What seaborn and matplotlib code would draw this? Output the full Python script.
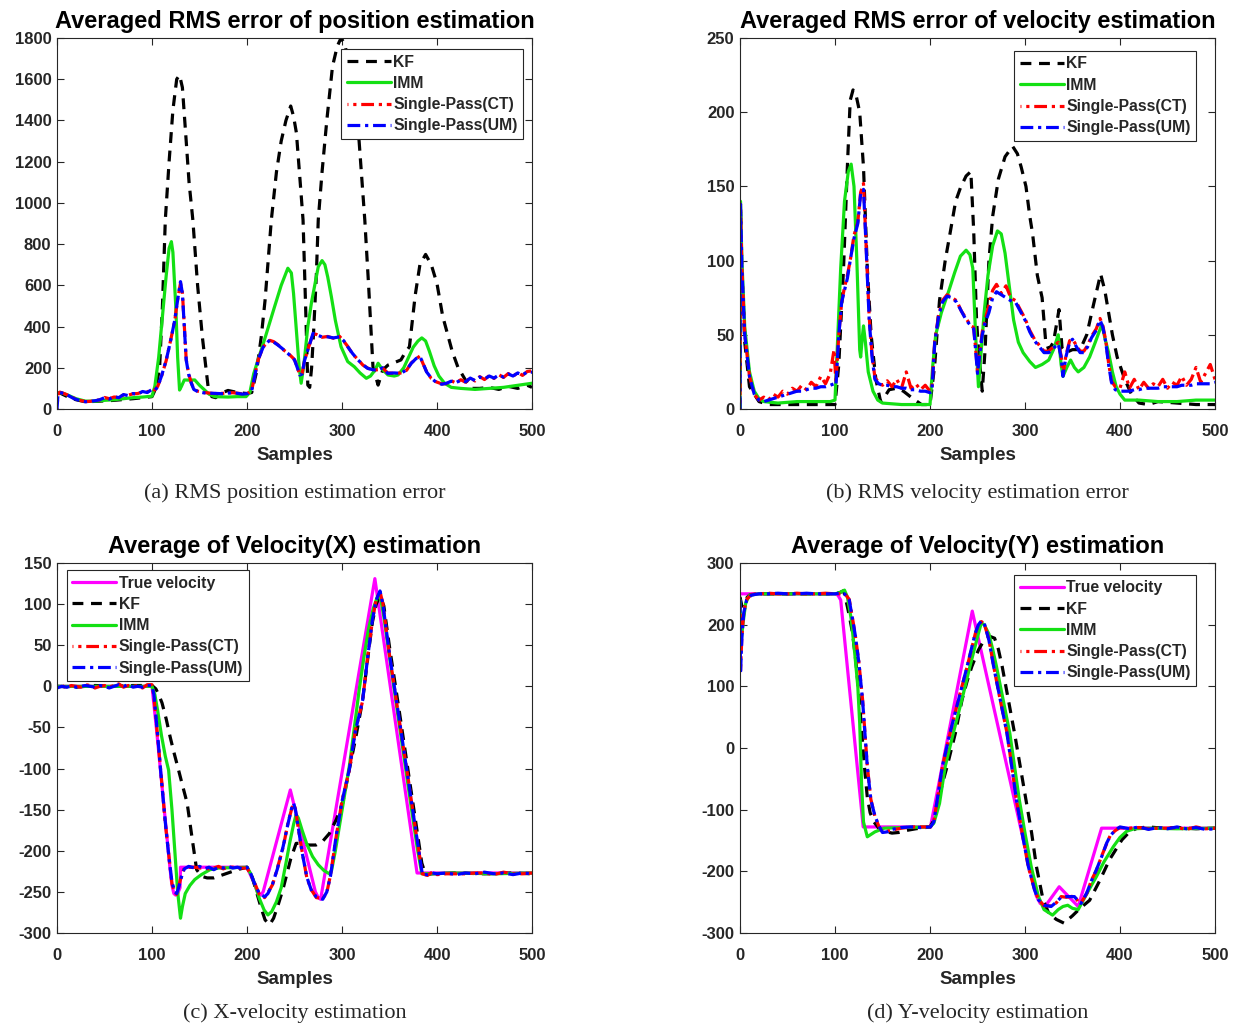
import matplotlib
matplotlib.use("Agg")
import matplotlib.pyplot as plt
import seaborn as sns
import pandas as pd

# ---------------- data: panel (a) RMS position error ----------------
A_KF_X = [0, 3, 10, 20, 30, 45, 60, 80, 100, 104, 108, 111, 114, 118, 122, 126, 129, 132, 136, 139, 143, 148, 153, 159, 163, 167, 172, 180, 190, 200, 205, 210, 215, 219, 225.6, 231, 236, 241, 246, 249, 252, 256, 259, 262, 264, 266, 268, 270, 273, 275, 279, 284, 290, 295, 299, 303, 308, 313, 318, 324, 328, 332.6, 338, 343, 348.4, 355, 362, 366, 371, 377, 382, 388, 394, 400, 406, 411, 416, 422, 430, 437, 445, 455, 465, 475, 485, 495, 500]
A_KF_Y = [80, 78, 62, 45, 35, 38, 42, 50, 60, 100, 200, 500, 917, 1200, 1450, 1600, 1620, 1560, 1300, 1100, 917, 600, 350, 110, 60, 55, 75, 90, 80, 75, 80, 180, 350, 527, 917, 1150, 1300, 1400, 1470, 1420, 1340, 1100, 917, 450, 116, 105, 200, 365, 650, 917, 1150, 1400, 1662, 1760, 1800, 1770, 1650, 1500, 1300, 917, 600, 205, 116, 190, 213, 225, 238, 270, 302, 550, 700, 750, 700, 608, 450, 365, 280, 203, 140, 100, 100, 105, 95, 110, 100, 115, 105]

A_IMM_X = [0, 5, 10, 20, 30, 40, 50, 60, 70, 80, 90, 100, 103, 107, 111, 115, 118, 120.4, 122, 125, 127, 129, 131, 134, 140, 145, 150, 155.4, 160, 166, 180, 190, 199, 203, 207, 211.6, 220, 229, 236, 243, 246.7, 249, 252, 255, 257, 260, 264, 268, 271, 275, 279, 282, 285, 288.8, 293, 299, 306, 313, 319, 325.6, 330, 335, 338, 342, 348.4, 355, 359, 365, 370, 375, 380, 384, 388, 392, 397, 402, 408, 415, 425, 440, 455, 470, 485, 500]
A_IMM_Y = [80, 78, 70, 50, 38, 38, 42, 45, 50, 55, 58, 62, 110, 250, 450, 650, 780, 812, 760, 500, 250, 92, 110, 141, 140, 141, 115, 92, 72, 60, 58, 60, 60, 80, 170, 238, 360, 496, 600, 683, 660, 560, 380, 200, 125, 220, 400, 520, 593, 690, 720, 700, 640, 545, 430, 302, 230, 205, 175, 149, 160, 190, 222, 195, 165, 160, 165, 200, 250, 300, 330, 345, 330, 280, 210, 160, 125, 105, 100, 95, 100, 105, 115, 125]

A_SP_X = [0, 1, 3, 8, 12, 18, 25, 30, 35, 40, 45, 50, 55, 60, 65, 70, 75, 80, 85, 90, 95, 100, 103, 106, 110, 115, 120, 124, 127, 130, 132, 134, 136, 138.5, 141.4, 144, 148.4, 155, 165, 175, 185, 195, 201, 205, 211.6, 217, 224, 228, 232.6, 238, 243, 250, 253, 255.4, 258, 260.7, 265, 269.5, 273, 279, 285, 291, 297.5, 302, 306, 311, 316.8, 322, 327, 333, 338, 343, 348, 355, 362, 368, 373, 378, 382, 385, 389, 394, 399, 405, 410, 415, 420, 425, 430, 435, 440, 445, 450, 455, 460, 465, 470, 475, 480, 485, 490, 495, 500]
A_UM_Y = [0, 70, 80, 75, 65, 50, 40, 35, 38, 40, 45, 55, 48, 60, 55, 70, 65, 75, 72, 85, 80, 95, 90, 108, 160, 238, 340, 432, 530, 618, 560, 400, 238, 170, 125, 95, 84, 78, 76, 74, 80, 72, 75, 90, 238, 300, 335, 325, 310, 290, 270, 238, 200, 165, 170, 238, 300, 367, 360, 350, 350, 345, 350, 330, 302, 270, 238, 215, 197, 190, 189, 200, 173, 175, 173, 190, 222, 245, 255, 225, 180, 150, 130, 120, 125, 135, 128, 140, 132, 150, 138, 155, 145, 160, 150, 165, 155, 170, 160, 175, 165, 180, 178]
A_CT_Y = [0, 72, 82, 74, 66, 52, 41, 36, 37, 42, 44, 56, 50, 58, 57, 68, 67, 74, 75, 83, 82, 97, 92, 110, 158, 236, 342, 430, 532, 610, 565, 405, 240, 172, 127, 96, 86, 80, 75, 76, 79, 74, 76, 92, 236, 302, 333, 327, 312, 288, 272, 240, 202, 167, 172, 236, 302, 365, 362, 348, 352, 343, 352, 328, 304, 268, 240, 213, 199, 188, 191, 198, 175, 173, 175, 188, 224, 243, 257, 223, 182, 148, 132, 122, 123, 137, 126, 142, 130, 152, 136, 157, 143, 162, 148, 167, 153, 172, 158, 177, 163, 182, 185]

# ---------------- data: panel (b) RMS velocity error ----------------
B_KF_X = [0, 0.5, 2, 5, 10, 20, 30, 50, 70, 90, 100, 104, 109, 113, 116, 119, 122, 126, 130, 134, 138, 143, 148, 152, 157, 165, 172, 180, 191, 200, 205, 210, 216, 221, 227, 232, 238, 243, 246, 249, 251, 255, 258, 262, 266, 272, 279, 287, 292, 296, 301, 305, 308, 313, 318, 321.7, 325, 330, 335.8, 339, 343, 350, 358, 365, 372, 379.6, 384, 388, 392, 397, 405, 412, 420, 430, 440, 460, 480, 500]
B_KF_Y = [0, 135, 90, 45, 15, 5, 3, 3, 3, 3, 3, 30, 95, 163, 208, 215, 212, 200, 163, 95, 50, 20, 5, 8, 13, 14, 12, 8, 3, 3, 30, 73, 100, 118, 140, 149, 157, 160, 120, 60, 40, 12, 40, 100, 130, 155, 170, 177, 172, 163, 150, 130, 118, 90, 75, 46, 40, 45, 67, 41, 38, 40, 40, 50, 70, 91, 80, 65, 50, 35, 20, 10, 4, 3, 5, 4, 3, 3]

B_IMM_X = [0, 0.5, 2, 5, 10, 15, 20, 25, 40, 60, 80, 95, 100, 103, 106, 110, 114, 117, 120, 123, 126, 127, 129, 130, 132, 135, 140, 145, 150, 170, 190, 200, 203, 206, 212, 220, 226, 232, 238, 242, 245, 248, 251, 254, 257, 261, 266, 271, 275, 279, 283, 288, 293, 298, 305, 311, 318, 325, 330, 335, 338, 340, 344, 348, 352, 356, 362, 368, 374, 378, 381, 384, 388, 392, 396, 400, 405, 420, 440, 460, 480, 500]
B_IMM_Y = [0, 140, 100, 55, 25, 12, 7, 5, 4, 5, 5, 5, 6, 50, 95, 140, 160, 165, 150, 100, 40, 35, 50, 56, 45, 25, 12, 6, 4, 3, 3, 3, 30, 50, 65, 80, 92, 103, 107, 104, 95, 50, 15, 40, 65, 90, 110, 120, 118, 105, 85, 60, 45, 38, 32, 28, 30, 33, 40, 50, 30, 22, 28, 33, 28, 25, 28, 35, 45, 52, 57, 48, 38, 25, 15, 10, 6, 6, 5, 5, 6, 6]

B_SP_X = [0, 0.5, 2, 5, 10, 15, 20, 25, 30, 35, 40, 45, 50, 55, 60, 65, 70, 75, 80, 85, 90, 95, 99, 101, 104, 107, 110, 113, 116, 120, 124, 127, 130, 132, 134, 136, 139, 142, 146, 150, 155, 160, 165, 170, 175, 180, 185, 190, 195, 200, 202, 205, 209, 213, 218, 223, 228, 233, 238, 243, 246, 248, 250, 252, 255, 258, 262, 266, 270, 275, 280, 285, 290, 295, 300, 305, 310, 315, 320, 325, 330, 335, 338, 340, 343, 347, 350, 354, 358, 362, 366, 370, 375, 379, 382, 385, 388, 391, 395, 400, 405, 410, 415, 420, 425, 430, 435, 440, 445, 450, 455, 460, 465, 470, 475, 480, 485, 490, 495, 500]
B_UM_Y = [0, 138, 95, 50, 22, 10, 6, 5, 6, 7, 8, 9, 10, 11, 12, 12, 13, 14, 14, 15, 15, 16, 17, 16, 50, 72, 80, 88, 100, 115, 125, 145, 148, 120, 90, 60, 35, 20, 17, 16, 16, 15, 15, 14, 14, 13, 13, 12, 12, 11, 12, 45, 62, 72, 76, 75, 72, 66, 60, 56, 54, 40, 24, 35, 50, 58, 65, 75, 79, 77, 75, 73, 72, 66, 60, 52, 46, 42, 38, 38, 41, 44, 35, 22, 35, 45, 47, 42, 38, 38, 42, 48, 53, 60, 55, 45, 30, 18, 13, 12, 12, 12, 13, 13, 14, 14, 14, 14, 15, 15, 15, 15, 16, 16, 16, 17, 17, 17, 17, 18]
B_CT_Y = [0, 138, 95, 50, 22, 10, 6, 8, 6, 10, 8, 12, 10, 14, 12, 16, 13, 18, 15, 22, 17, 24, 40, 18, 50, 72, 82, 90, 100, 117, 126, 146, 152, 122, 92, 62, 37, 21, 18, 16, 19, 15, 20, 14, 25, 14, 17, 13, 16, 12, 14, 46, 63, 73, 77, 75, 73, 66, 61, 56, 55, 41, 25, 36, 52, 60, 70, 80, 84, 78, 83, 75, 73, 67, 61, 53, 47, 43, 39, 39, 42, 45, 36, 23, 36, 46, 47, 43, 39, 39, 43, 49, 54, 61, 56, 46, 31, 19, 15, 14, 25, 14, 20, 13, 18, 14, 17, 15, 20, 14, 18, 16, 22, 16, 20, 28, 18, 24, 30, 20]

# ---------------- data: panel (c) X-velocity ----------------
C_TRUE_X = [0, 100, 105, 110, 115, 119, 121, 123, 125, 127, 129.5, 130, 200, 207, 211, 214, 217, 245.6, 272, 275, 277.5, 334.6, 379, 500]
C_TRUE_Y = [0, 0, -55, -115, -175, -222, -242, -252, -254, -252, -245, -220, -220, -238, -250, -254, -250, -126, -250, -257, -259, 131, -227, -227]

C_KF_X = [0, 20, 40, 60, 80, 100, 104, 107, 110.5, 115, 119, 123, 128, 132, 137, 142, 147, 152, 158, 165, 175, 185, 193, 200, 205, 210, 215, 219, 223.8, 228, 233, 237.8, 242, 246, 251.7, 258, 265, 272.7, 280, 286.7, 294, 300.7, 307.7, 314.7, 321.7, 327, 332, 336, 340, 344, 350, 360, 370, 378, 384, 388, 395, 420, 450, 480, 500]
C_KF_Y = [0, -1, 1, 0, 1, 1, -3, -10, -20, -40, -61, -80, -102, -120, -142, -183, -223, -231, -233, -233, -229, -225, -222, -220, -230, -250, -270, -284, -290, -282, -265, -247, -228, -210, -191, -191, -193, -193, -188, -179, -162, -142, -101, -61, -17, 33, 78, 100, 110, 98, 48, -28, -106, -168, -215, -229, -228, -227, -228, -227, -228]

C_IMM_X = [0, 100, 103, 106, 110, 114, 117.5, 121, 124, 127, 130, 132, 135, 140, 145, 152, 161, 170, 200, 204, 208, 213, 218, 222, 226, 231, 236, 241, 245, 249, 251.7, 254, 258, 263, 269, 275, 281, 286.7, 289, 293, 298, 303, 308, 313, 318, 323, 328, 333, 337, 340, 344, 352, 362, 372, 379, 384, 390, 420, 460, 500]
C_IMM_Y = [0, 0, -10, -30, -60, -85, -102, -150, -200, -250, -282, -268, -252, -242, -235, -229, -223, -221, -220, -228, -240, -258, -272, -278, -274, -262, -245, -215, -190, -168, -156, -160, -175, -192, -207, -217, -224, -228, -224, -200, -165, -130, -95, -50, -5, 35, 70, 95, 108, 111, 85, 20, -60, -140, -195, -228, -228, -227, -228, -227]

C_SP_X = [0, 5, 10, 15, 20, 25, 30, 35, 40, 45, 50, 55, 60, 65, 70, 75, 80, 85, 90, 95, 100, 102, 106, 110, 114, 118, 121, 124, 126, 128, 131, 134, 138.6, 145, 150, 155, 160, 165, 170, 175, 180, 185, 190, 195, 200, 204, 208, 213, 218.5, 222, 227, 232, 238, 243, 247, 249, 251, 254, 258, 263, 268, 273, 279.7, 284, 288, 293.7, 300, 307.7, 314, 321.7, 327, 332, 336, 340, 343, 350, 360, 370, 378, 384.6, 390, 395, 400, 410, 420, 430, 440, 450, 460, 470, 480, 490, 500]
C_UM_Y = [-2, 0, -1, 0, -1, 0, 1, 0, -1, 1, 0, -2, 0, 2, 0, 2, -1, 0, -1, 1, 1, -10, -60, -115, -165, -210, -238, -250, -252, -245, -232, -222, -219, -221, -219, -222, -220, -223, -220, -221, -219, -221, -220, -222, -220, -228, -240, -252, -256, -252, -240, -222, -195, -168, -148, -142, -150, -172, -202, -232, -249, -256, -259, -250, -230, -183, -140, -101, -55, -17, 35, 81, 105, 116, 100, 39, -38, -116, -178, -229, -229, -227, -228, -227, -229, -227, -228, -226, -228, -227, -229, -227, -228]
C_CT_Y = [-1, 1, -2, 1, 0, -1, 2, 1, -2, 0, 1, -1, 1, 3, -1, 1, 0, 1, -2, 2, 2, -12, -62, -113, -167, -208, -240, -251, -253, -244, -230, -221, -220, -220, -221, -221, -222, -221, -219, -222, -220, -220, -221, -221, -221, -229, -239, -253, -257, -251, -241, -221, -196, -167, -149, -143, -149, -173, -201, -233, -248, -257, -258, -251, -229, -184, -139, -102, -54, -18, 36, 80, 106, 115, 101, 38, -39, -115, -179, -228, -230, -226, -229, -228, -228, -228, -227, -227, -229, -226, -228, -228, -227]

# ---------------- data: panel (d) Y-velocity ----------------
D_TRUE_X = [0, 100, 103, 106, 110, 115, 120, 125, 129.7, 200.5, 244.5, 262, 281, 300, 308, 312, 316, 322, 336, 356, 380.6, 500]
D_TRUE_Y = [250, 250, 248, 240, 178, 100, 23, -55, -128, -128, 222, 101, -30, -161, -215, -240, -252, -255, -225, -257, -130, -130]

D_KF_X = [0, 2, 5, 10, 20, 100, 105, 109, 111.5, 115, 118.5, 122, 125, 128, 131, 134, 137, 141, 146, 152, 160, 167, 174, 185, 200, 205, 209, 213, 218, 222, 226.7, 233.7, 239, 244, 251, 257, 263, 268, 272, 276, 282.5, 289, 295, 301, 307, 312, 319, 325, 333, 341, 350, 358, 368, 379, 389, 402, 410, 418, 430, 445, 460, 480, 500]
D_KF_Y = [245, 230, 240, 248, 250, 250, 252, 255, 240, 215, 186, 140, 90, 30, -30, -80, -105, -120, -130, -135, -138, -137, -134, -131, -128, -115, -84, -58, -30, -5, 24, 78, 108, 132, 159, 175, 181, 178, 160, 132, 78, 24, -30, -84, -138, -192, -246, -268, -278, -284, -272, -260, -247, -214, -181, -149, -136, -130, -128, -130, -129, -131, -130]

D_IMM_X = [0, 1, 3, 6, 10, 20, 60, 100, 105, 110, 113, 117, 121, 124, 126, 128, 130, 134, 137, 142, 152, 170, 200, 204, 210, 216, 224.5, 233.5, 242, 250, 254, 257, 262, 266, 270, 277, 284, 289, 294, 300, 306.5, 314, 320, 329, 335, 340, 345, 350, 356, 362, 368, 375, 383, 393, 400, 407, 415, 430, 460, 500]
D_IMM_Y = [240, 170, 200, 235, 248, 250, 250, 250, 252, 256, 245, 210, 150, 100, 40, -60, -120, -144, -141, -136, -130, -129, -128, -122, -90, -30, 24, 78, 132, 180, 203, 200, 185, 160, 132, 78, 24, -30, -84, -138, -192, -240, -262, -271, -262, -257, -255, -260, -262, -245, -228, -209, -185, -160, -145, -135, -131, -130, -131, -130]

D_SP_X = [0, 0.5, 2, 4, 7, 12, 20, 30, 40, 50, 60, 70, 80, 90, 100, 105, 110, 115, 121, 125, 129, 134, 137.7, 142, 146.4, 150, 155, 160, 170, 180, 190, 200.5, 204, 208, 213, 221, 230, 239, 247.6, 251, 254, 257, 262, 267, 274, 281, 286, 291, 297, 303.5, 310, 314, 320, 327.5, 333, 338, 343.5, 352, 356, 359, 365, 370, 375, 381, 386, 390, 395, 400, 410, 420, 430, 440, 450, 460, 470, 480, 490, 500]
D_UM_Y = [240, 120, 180, 220, 240, 248, 250, 250, 251, 250, 250, 251, 250, 250, 250, 251, 250, 240, 186, 140, 78, -30, -84, -110, -127, -137, -136, -132, -129, -128, -129, -128, -120, -80, -30, 24, 78, 132, 186, 200, 206, 203, 175, 132, 78, 24, -30, -84, -138, -192, -230, -246, -255, -257, -250, -242, -241, -241, -248, -252, -235, -215, -198, -175, -154, -142, -133, -128, -131, -128, -132, -129, -131, -128, -131, -129, -132, -131]
D_CT_Y = [240, 125, 182, 221, 241, 249, 250, 251, 250, 250, 251, 250, 250, 251, 250, 250, 251, 241, 187, 141, 79, -29, -83, -111, -128, -136, -135, -133, -130, -128, -128, -128, -119, -81, -31, 23, 79, 131, 185, 201, 205, 202, 176, 133, 77, 25, -29, -85, -137, -193, -229, -245, -256, -256, -251, -241, -242, -240, -249, -251, -236, -214, -199, -174, -155, -141, -134, -129, -130, -129, -131, -130, -130, -129, -132, -128, -131, -130]

TITLES = ["Averaged RMS error of position estimation",
          "Averaged RMS error of velocity estimation",
          "Average of Velocity(X) estimation",
          "Average of Velocity(Y) estimation"]
CAPTIONS = ["(a) RMS position estimation error",
            "(b) RMS velocity estimation error",
            "(c) X-velocity estimation",
            "(d) Y-velocity estimation"]
XTICKS = [0, 100, 200, 300, 400, 500]
YLIMS = [(0, 1800), (0, 250), (-300, 150), (-300, 300)]
YSTEPS = [200, 50, 50, 100]

# ---------------- styling ----------------
sns.set_theme(style="ticks")
plt.rcParams['font.family'] = ['Liberation Sans', 'DejaVu Sans']
plt.rcParams['font.weight'] = 'bold'
plt.rcParams['axes.titleweight'] = 'bold'
plt.rcParams['axes.labelweight'] = 'bold'
plt.rcParams['axes.unicode_minus'] = False

LW = 2.3
STY = {
    "True velocity": dict(color="#ff00ff", linestyle="-"),
    "KF": dict(color="black", linestyle=(0, (3.4, 2.4))),
    "IMM": dict(color="#14e014", linestyle="-"),
    "Single-Pass(CT)": dict(color="#ff0000", linestyle=(3.7, (4.0, 1.5, 1.0, 1.5))),
    "Single-Pass(UM)": dict(color="#0000ff", linestyle=(0, (4.0, 1.5, 1.0, 1.5))),
}

fig = plt.figure(figsize=(12.39, 10.26), dpi=100)
W, H = 1239.0, 1026.0
boxes = [(57, 38, 532, 409), (740, 38, 1215, 409), (57, 563, 532, 933), (740, 563, 1215, 933)]
axes = []
for (l, t, r, b) in boxes:
    axes.append(fig.add_axes([l / W, 1 - b / H, (r - l) / W, (b - t) / H]))

series = [
    [("KF", A_KF_X, A_KF_Y), ("IMM", A_IMM_X, A_IMM_Y),
     ("Single-Pass(CT)", A_SP_X, A_CT_Y), ("Single-Pass(UM)", A_SP_X, A_UM_Y)],
    [("KF", B_KF_X, B_KF_Y), ("IMM", B_IMM_X, B_IMM_Y),
     ("Single-Pass(CT)", B_SP_X, B_CT_Y), ("Single-Pass(UM)", B_SP_X, B_UM_Y)],
    [("True velocity", C_TRUE_X, C_TRUE_Y), ("KF", C_KF_X, C_KF_Y), ("IMM", C_IMM_X, C_IMM_Y),
     ("Single-Pass(CT)", C_SP_X, C_CT_Y), ("Single-Pass(UM)", C_SP_X, C_UM_Y)],
    [("True velocity", D_TRUE_X, D_TRUE_Y), ("KF", D_KF_X, D_KF_Y), ("IMM", D_IMM_X, D_IMM_Y),
     ("Single-Pass(CT)", D_SP_X, D_CT_Y), ("Single-Pass(UM)", D_SP_X, D_UM_Y)],
]

legend_anchor = [("upper right", (0.981, 0.970)), ("upper right", (0.960, 0.965)),
                 ("upper left", (0.021, 0.981)), ("upper right", (0.960, 0.968))]

for i, ax in enumerate(axes):
    for name, xs, ys in series[i]:
        df = pd.DataFrame({"Samples": xs, "v": ys})
        sns.lineplot(data=df, x="Samples", y="v", ax=ax, estimator=None, sort=False,
                     linewidth=LW, label=name, **STY[name])
    ax.set_xlim(0, 500)
    ax.set_ylim(*YLIMS[i])
    ax.set_xticks(XTICKS)
    lo, hi = YLIMS[i]
    ax.set_yticks(list(range(lo, hi + 1, YSTEPS[i])))
    ax.tick_params(direction="in", top=True, right=True, length=5, width=0.8,
                   colors="#262626", labelsize=12, pad=4)
    ax.tick_params(axis="x", pad=10.5)
    for lab in ax.get_xticklabels() + ax.get_yticklabels():
        lab.set_fontweight("bold")
    for s in ax.spines.values():
        s.set_color("#262626")
        s.set_linewidth(0.8)
    ax.set_title(TITLES[i], fontsize=17, fontweight="bold", pad=7, color="black")
    ax.set_xlabel("Samples", fontsize=13.5, fontweight="bold", labelpad=6, color="#262626")
    ax.set_ylabel("")
    loc, anchor = legend_anchor[i]
    leg = ax.legend(loc=loc, bbox_to_anchor=anchor, borderaxespad=0, fancybox=False,
                    framealpha=1, edgecolor="#262626", handlelength=2.8,
                    handletextpad=0.15, labelspacing=0.4, borderpad=0.35,
                    prop={"weight": "bold", "size": 11.3})
    leg.get_frame().set_linewidth(0.8)

cap_y = [493, 493, 1013, 1013]
for i, (l, t, r, b) in enumerate(boxes):
    fig.text((l + r) / 2 / W, 1 - cap_y[i] / H, CAPTIONS[i], ha="center", va="center",
             fontsize=16, fontweight="normal", family=["Liberation Serif", "DejaVu Serif"])

fig.savefig("out.png", dpi=100)
